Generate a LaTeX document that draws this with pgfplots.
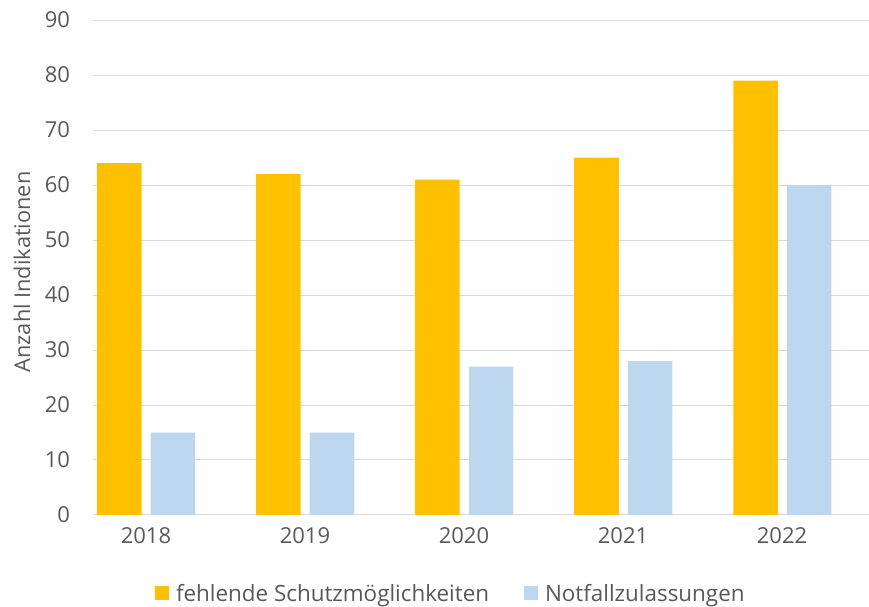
\documentclass[border=0pt]{standalone}
\usepackage{pgfplots}
\pgfplotsset{compat=1.18}
\usepackage{fontspec}
\setmainfont{Open Sans}
\definecolor{orangeC}{HTML}{FFC000}
\definecolor{blueC}{HTML}{BDD7EE}
\definecolor{gridgray}{HTML}{D9D9D9}
\definecolor{textgray}{HTML}{595959}
\begin{document}
\begin{tikzpicture}
\begin{axis}[
  scale only axis,
  width=582pt, height=371.25pt,
  xmin=-0.333, xmax=4.547,
  ymin=0, ymax=90,
  ytick={0,10,...,90},
  xtick={0,1,2,3,4},
  xticklabels={2018,2019,2020,2021,2022},
  major tick length=0pt,
  axis x line=bottom, axis y line=left,
  axis line style={-},
  x axis line style={draw=gridgray, line width=0.75pt},
  y axis line style={draw=none},
  ymajorgrids, grid style={draw=gridgray, line width=0.75pt},
  /pgf/number format/assume math mode=true,
  tick label style={font=\fontsize{16.5}{19}\selectfont, text=textgray},
  yticklabel style={inner sep=0pt, xshift=-17pt},
  xticklabel style={inner sep=0pt, yshift=-9pt},
  every axis y label/.style={at={(axis description cs:-0.0915,0.491)}, rotate=90, anchor=center},
  ylabel={Anzahl Indikationen},
  ylabel style={font=\fontsize{16.3}{19}\selectfont, text=textgray},
  ybar, bar width=0.28,
  legend columns=2,
  legend style={at={(axis description cs:0.4613,-0.159)}, anchor=center, draw=none,
    font=\fontsize{16.8}{19}\selectfont, text=textgray,
    /tikz/every even column/.append style={column sep=24pt}},
  legend image code/.code={\fill[#1] (0pt,-5pt) rectangle (10.5pt,5.5pt); \path (14pt,0pt);},
]
\addplot[fill=orangeC, draw=none, bar shift=-0.1667] coordinates {(0,64) (1,62) (2,61) (3,65) (4,79)};
\addlegendentry{fehlende Schutzmöglichkeiten}
\addplot[fill=blueC, draw=none, bar shift=0.17] coordinates {(0,15) (1,15) (2,27) (3,28) (4,60)};
\addlegendentry{Notfallzulassungen}
\end{axis}
\pgfresetboundingbox
\useasboundingbox (-69.75pt,-69pt) rectangle (582pt,386.25pt);
\end{tikzpicture}
\end{document}
